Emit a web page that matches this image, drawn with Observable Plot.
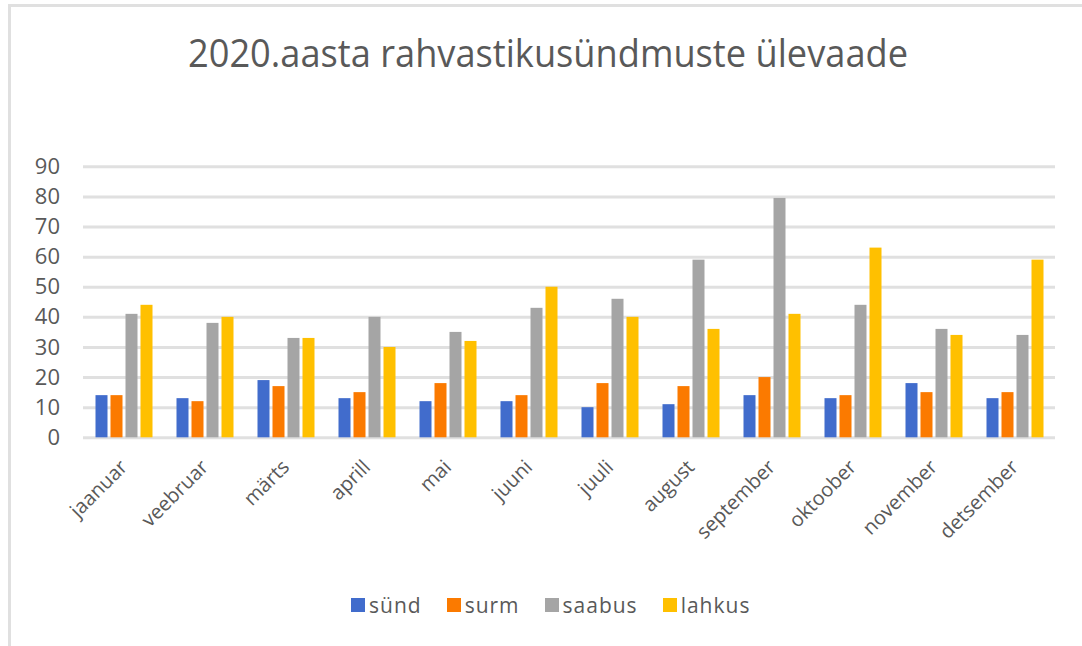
<!DOCTYPE html>
<html>
<head>
<meta charset="utf-8">
<script src="https://cdn.jsdelivr.net/npm/d3@7"></script>
<script src="https://cdn.jsdelivr.net/npm/@observablehq/plot@0.6"></script>
<style>
  html, body { margin: 0; padding: 0; background: #fff; overflow: hidden; }
  #wrap { position: relative; width: 1082px; height: 646px; overflow: hidden; font-family: "Open Sans", sans-serif; }
  #frame { position: absolute; left: 8px; top: 4px; width: 1200px; height: 800px; border-left: 3px solid #e0e0e0; border-top: 3px solid #e0e0e0; }
  #title { position: absolute; left: 0; top: 0; }
  #chart { position: absolute; left: 0; top: 100px; }
  #legend { position: absolute; left: 351px; top: 591px; display: flex; align-items: center; font-size: 21px; color: #595959; letter-spacing: 1px; }
  #legend .item { display: flex; align-items: center; margin-right: 25px; }
  #legend .sw { width: 14px; height: 14px; margin-right: 4px; }
</style>
</head>
<body>
<div id="wrap">
  <div id="frame"></div>
  <svg id="title" width="1082" height="100">
    <text x="548" y="67" text-anchor="middle" font-family="Open Sans" font-size="39" fill="#595959" textLength="720" lengthAdjust="spacingAndGlyphs">2020.aasta rahvastikusündmuste ülevaade</text>
  </svg>
  <div id="chart"></div>
  <div id="legend"></div>
</div>
<script>
const months = ["jaanuar","veebruar","märts","aprill","mai","juuni","juuli","august","september","oktoober","november","detsember"];
const seriesNames = ["sünd","surm","saabus","lahkus"];
const seriesColors = ["#416ccc","#fb7a00","#a5a5a5","#ffc000"];
const synd   = [14,13,19,13,12,12,10,11,14,13,18,13];
const surm   = [14,12,17,15,18,14,18,17,20,14,15,15];
const saabus = [41,38,33,40,35,43,46,59,79.5,44,36,34];
const lahkus = [44,40,33,30,32,50,40,36,41,63,34,59];
const yTicks = [0,10,20,30,40,50,60,70,80,90];

const seriesValues = [synd, surm, saabus, lahkus];
const data = months.flatMap((m, i) => seriesNames.map((s, j) => ({month: m, series: s, value: seriesValues[j][i]})));

const chart = Plot.plot({
  width: 1082,
  height: 460,
  marginLeft: 79.5,
  marginRight: 23.5,
  marginTop: 66.3,
  marginBottom: 122.7,
  style: {fontFamily: "Open Sans", color: "#595959", background: "transparent", overflow: "visible"},
  fx: {domain: months, padding: 0, label: null},
  x: {domain: seriesNames, paddingInner: 0.2, paddingOuter: 0.795, axis: null},
  y: {domain: [0, 90], label: null},
  color: {domain: seriesNames, range: seriesColors},
  marks: [
    Plot.gridY(yTicks, {stroke: "#e0e0e0", strokeOpacity: 1, strokeWidth: 3}),
    Plot.axisY(yTicks, {anchor: "left", tickSize: 0, tickPadding: 23.5, fontSize: 22, label: null, fill: "#595959"}),
    Plot.axisFx({anchor: "bottom", tickRotate: -45, tickSize: 0, tickPadding: 26, fontSize: 20, label: null, fill: "#595959", style: "letter-spacing:1.5px"}),
    Plot.barY(data, {fx: "month", x: "series", y: "value", fill: "series"})
  ]
});
document.getElementById("chart").appendChild(chart);

const legend = document.getElementById("legend");
seriesNames.forEach((s, j) => {
  const item = document.createElement("div");
  item.className = "item";
  const sw = document.createElement("div");
  sw.className = "sw";
  sw.style.background = seriesColors[j];
  const t = document.createElement("span");
  t.textContent = s;
  item.appendChild(sw);
  item.appendChild(t);
  legend.appendChild(item);
});
</script>
</body>
</html>
